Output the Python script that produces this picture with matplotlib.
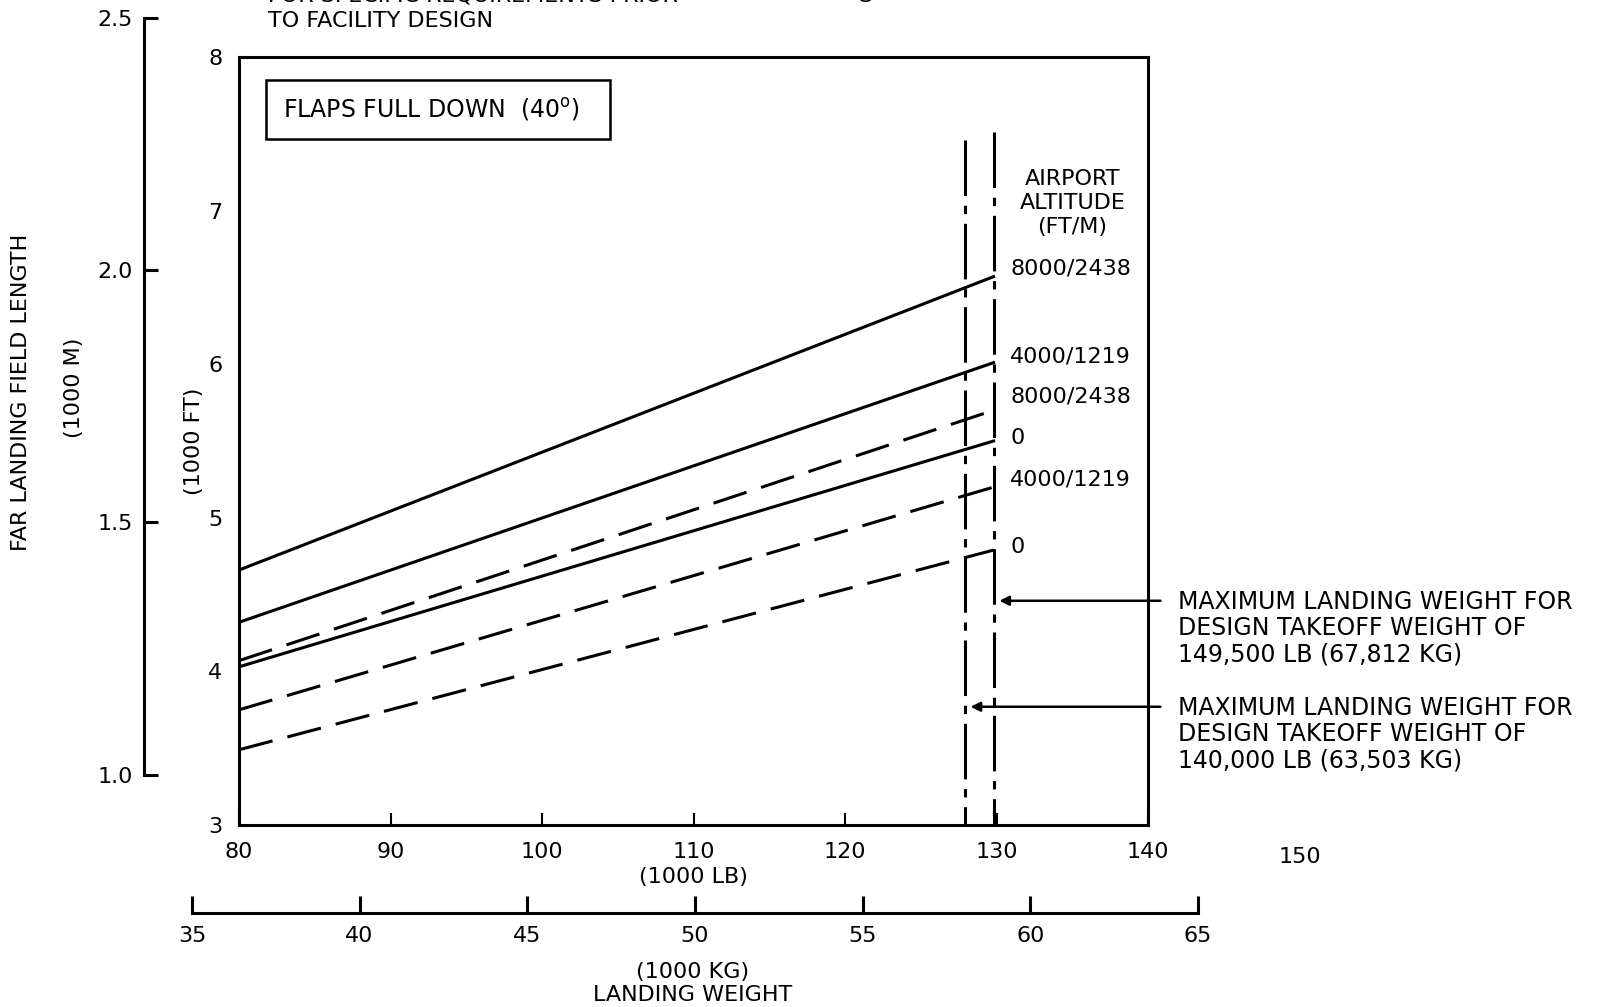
import matplotlib.pyplot as plt
from matplotlib.patches import Rectangle

plt.rcParams['font.family'] = ['DejaVu Sans']
plt.rcParams['lines.scale_dashes'] = False

# landing weight (1000 lb) at start and end of each line
weight_lb = [80, 129.8]
# landing field length (1000 ft), flaps 40
solid_8000 = [4.66, 6.57]
solid_4000 = [4.32, 6.01]
solid_0 = [4.03, 5.50]
dash_8000 = [4.07, 5.70]
dash_4000 = [3.75, 5.20]
dash_0 = [3.49, 4.79]

max_weights = [127.9, 129.8]
max_top = [7.46, 7.51]

alt_labels = ['8000/2438', '4000/1219', '8000/2438', '0', '4000/1219', '0']
alt_label_y = [6.62, 6.05, 5.79, 5.52, 5.25, 4.81]

lb_ticks = [80, 90, 100, 110, 120, 130, 140]
kg_ticks = [35, 40, 45, 50, 55, 60, 65]
m_ticks = [1.0, 1.5, 2.0, 2.5]
ft_ticks = [3, 4, 5, 6, 7, 8]

lw = 2.2
fs = 16
dashed = (0, (25, 11))
dashdot = (0, (40, 7, 6, 7))

fig = plt.figure(figsize=(16.17, 10.07), dpi=100)
ax = fig.add_axes([0.1478, 0.1807, 0.5622, 0.7627])

ax.plot(weight_lb, solid_8000, color='black', lw=lw)
ax.plot(weight_lb, solid_4000, color='black', lw=lw)
ax.plot(weight_lb, solid_0, color='black', lw=lw)
ax.plot(weight_lb, dash_8000, color='black', lw=lw, linestyle=dashed)
ax.plot(weight_lb, dash_4000, color='black', lw=lw, linestyle=dashed)
ax.plot(weight_lb, dash_0, color='black', lw=lw, linestyle=dashed)

for xv, top in zip(max_weights, max_top):
    ax.plot([xv, xv], [top, 3], color='black', lw=lw, linestyle=dashdot)

ax.set_xlim(80, 140)
ax.set_ylim(3, 8)
ax.set_xticks(lb_ticks)
ax.set_yticks(ft_ticks)
ax.tick_params(axis='x', direction='in', length=9, width=1.5, labelsize=fs, pad=12)
ax.tick_params(axis='y', length=0, labelsize=fs, pad=12)
for s in ax.spines.values():
    s.set_linewidth(lw)
ax.text(150, -0.028, '150', transform=ax.get_xaxis_transform(), ha='center',
        va='top', fontsize=fs)
ax.text(110, -0.055, '(1000 LB)', transform=ax.get_xaxis_transform(), ha='center',
        va='top', fontsize=fs)
ax.set_ylabel('(1000 FT)', fontsize=fs, labelpad=3)

# flaps box
ax.add_patch(Rectangle((0.0297, 0.893), 0.378, 0.077, transform=ax.transAxes,
                       fill=False, lw=1.8, color='black'))
ax.text(0.048, 0.931, r'FLAPS FULL DOWN  (40$^{\mathrm{o}}$)', transform=ax.transAxes,
        ha='left', va='center', fontsize=17)

# altitude labels
ax.text(135.0, 7.05, 'AIRPORT\nALTITUDE\n(FT/M)', ha='center', va='center',
        fontsize=fs, linespacing=1.26)
for lab, yv in zip(alt_labels, alt_label_y):
    ax.text(130.9, yv, lab, ha='left', va='center', fontsize=fs)

# max weight notes
notes = ['MAXIMUM LANDING WEIGHT FOR\nDESIGN TAKEOFF WEIGHT OF\n149,500 LB (67,812 KG)',
         'MAXIMUM LANDING WEIGHT FOR\nDESIGN TAKEOFF WEIGHT OF\n140,000 LB (63,503 KG)']
note_y = [4.46, 3.77]
for txt, xv, yv in zip(notes, max_weights[::-1], note_y):
    ax.annotate('', xy=(xv + 0.2, yv), xytext=(141.0, yv),
                arrowprops=dict(arrowstyle='-|>', color='black', lw=1.8,
                                mutation_scale=14), annotation_clip=False)
    ax.text(142.0, yv + 0.07, txt, ha='left', va='top', fontsize=17,
            linespacing=1.11, clip_on=False)

# kg axis
axk = fig.add_axes([0.1187, 0.0933, 0.6222, 0.03])
axk.set_xlim(35, 65)
axk.set_xticks(kg_ticks)
axk.set_yticks([])
for k in ['top', 'left', 'right']:
    axk.spines[k].set_visible(False)
axk.spines['bottom'].set_linewidth(lw)
axk.patch.set_alpha(0)
axk.tick_params(axis='x', direction='in', length=12, width=lw, labelsize=fs, pad=9)
fig.text(0.4286, 0.035, '(1000 KG)', ha='center', va='center', fontsize=fs)
fig.text(0.4286, 0.012, 'LANDING WEIGHT', ha='center', va='center', fontsize=fs)

# meters axis
axm = fig.add_axes([0.089, 0.2304, 0.03, 0.7522])
axm.set_ylim(1.0, 2.5)
axm.set_yticks(m_ticks)
axm.set_yticklabels(['%.1f' % v for v in m_ticks])
axm.set_xticks([])
for k in ['top', 'bottom', 'right']:
    axm.spines[k].set_visible(False)
axm.spines['left'].set_linewidth(lw)
axm.patch.set_alpha(0)
axm.tick_params(axis='y', direction='in', length=10, width=lw, labelsize=fs, pad=8)
fig.text(0.013, 0.61, 'FAR LANDING FIELD LENGTH', rotation=90, ha='center',
         va='center', fontsize=fs)
fig.text(0.046, 0.615, '(1000 M)', rotation=90, ha='center', va='center', fontsize=fs)

# cut-off header text
fig.text(0.1657, 0.979, 'TO FACILITY DESIGN', ha='left', va='center', fontsize=fs)
fig.text(0.1657, 1.004, 'FOR SPECIFIC REQUIREMENTS PRIOR', ha='left', va='center',
         fontsize=fs)
fig.text(0.531, 1.004, 'S', ha='left', va='center', fontsize=fs)

fig.savefig('out.png', dpi=100)
